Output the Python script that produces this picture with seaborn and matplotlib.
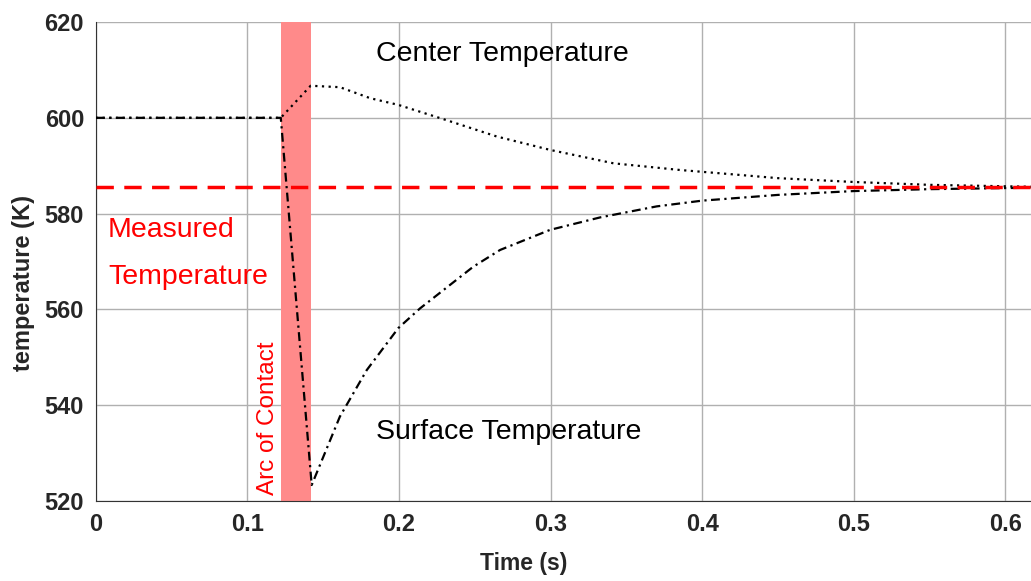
import numpy as np
import pandas as pd
import matplotlib
matplotlib.use('Agg')
import matplotlib.pyplot as plt
import seaborn as sns
from matplotlib.ticker import MultipleLocator

# --- datos ---
time_center = [0, 0.122, 0.1417, 0.161, 0.181, 0.1996, 0.2315, 0.2645, 0.2997,
               0.3415, 0.3855, 0.42, 0.45, 0.5, 0.55, 0.617]
center_temp = [600, 600, 606.7, 606.4, 604.1, 602.7, 599.5, 596.1, 593.3,
               590.5, 589.1, 588.2, 587.4, 586.6, 586.0, 585.6]

time_surface = [0, 0.122, 0.1424, 0.161, 0.1787, 0.1996, 0.2139, 0.249, 0.2667,
                0.2997, 0.3327, 0.37, 0.4, 0.45, 0.5, 0.55, 0.617]
surface_temp = [600, 600, 523.3, 537.6, 547.3, 556.1, 560.2, 568.9, 572.4,
                576.6, 579.2, 581.5, 582.7, 583.9, 584.7, 585.1, 585.4]

measured_temp = 585.5
arc_start, arc_end = 0.122, 0.142

df_c = pd.DataFrame({'Time': time_center, 'T': center_temp})
df_s = pd.DataFrame({'Time': time_surface, 'T': surface_temp})

sns.set_style('white')
plt.rcParams['font.family'] = ['Liberation Sans', 'DejaVu Sans']

fig = plt.figure(figsize=(10.31, 5.81), dpi=100)
ax = fig.add_axes([0.093, 0.138, 0.907, 0.824])

ax.axvspan(arc_start, arc_end, color='#ff8a8a', zorder=1, lw=0)
sns.lineplot(x='Time', y='T', data=df_c, ax=ax, color='black', lw=1.6, zorder=3)
ax.lines[-1].set_linestyle((0, (1, 2)))
sns.lineplot(x='Time', y='T', data=df_s, ax=ax, color='black', lw=1.6, zorder=3)
ax.lines[-1].set_linestyle((0, (4, 2, 1, 2)))
ax.axhline(measured_temp, color='red', ls=(0, (5, 3)), lw=2.5, zorder=4)

ax.set_xlim(0, 0.617)
ax.set_ylim(520, 620)
ax.xaxis.set_minor_locator(MultipleLocator(0.05))
ax.yaxis.set_major_locator(MultipleLocator(20))
ax.yaxis.set_minor_locator(MultipleLocator(10))
ax.set_xticks(np.arange(0, 0.61, 0.1))
ax.set_xticklabels(['0', '0.1', '0.2', '0.3', '0.4', '0.5', '0.6'])
ax.grid(True, which='major', color='#b0b0b0', lw=1)
ax.tick_params(which='major', direction='inout', length=10, labelsize=17, width=1)
ax.tick_params(which='minor', direction='in', length=7, width=1)
for lab in ax.get_xticklabels() + ax.get_yticklabels():
    lab.set_fontweight('bold')

for s in ['top', 'right']:
    ax.spines[s].set_visible(False)
for s in ['left', 'bottom']:
    ax.spines[s].set_color('#333333')

ax.set_xlabel('Time (s)', fontsize=16.5, fontweight='bold', va='center')
ax.set_ylabel('temperature (K)', fontsize=17, fontweight='bold', va='center')
ax.xaxis.set_label_coords(0.457, -0.1315)
ax.yaxis.set_label_coords(-0.077, 0.454)

ax.text(0.185, 613.3, 'Center Temperature', fontsize=20.5, color='black', va='center')
ax.text(0.185, 534.3, 'Surface Temperature', fontsize=20.5, color='black', va='center')
ax.text(0.008, 576.6, 'Measured', fontsize=20.5, color='red', va='center')
ax.text(0.008, 566.8, 'Temperature', fontsize=20.5, color='red', va='center')
ax.text(0.1135, 521.2, 'Arc of Contact', fontsize=17.5, color='red', rotation=90,
        ha='center', va='bottom')

plt.savefig('out.png', dpi=100)
